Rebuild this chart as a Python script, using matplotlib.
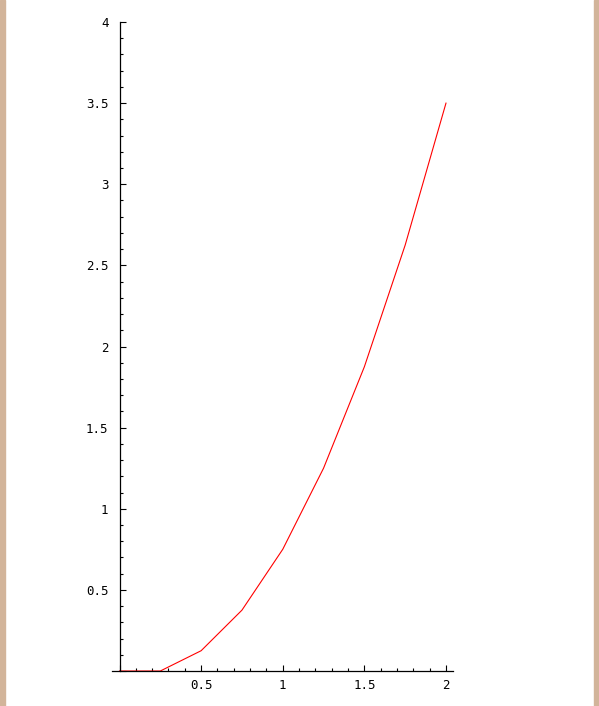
import matplotlib
matplotlib.use("Agg")
import matplotlib.pyplot as plt
from matplotlib.patches import Rectangle
from matplotlib.ticker import MultipleLocator, FuncFormatter

x_vals = [0, 0.25, 0.5, 0.75, 1.0, 1.25, 1.5, 1.75, 2.0]
y_vals = [0, 0, 0.125, 0.375, 0.75, 1.25, 1.875, 2.625, 3.5]

W, H = 599, 706
fig = plt.figure(figsize=(W / 100, H / 100), dpi=100, facecolor="white")

# tan strips at left and right edges
tan = "#d2b49a"
fig.patches.append(Rectangle((0, 0), 5 / W, 1, transform=fig.transFigure,
                             color=tan, zorder=-1))
fig.patches.append(Rectangle((594 / W, 0), 5 / W, 1, transform=fig.transFigure,
                             color=tan, zorder=-1))

ax = fig.add_axes([112 / W, (H - 671) / H, (453 - 112) / W, (671 - 22) / H])
ax.set_facecolor("none")
ax.plot(x_vals, y_vals, color="red", linewidth=0.8)

ax.set_xlim(-0.046, 2.043)
ax.set_ylim(0, 4)
for s in ("top", "right"):
    ax.spines[s].set_visible(False)
ax.spines["left"].set_position(("data", 0))
ax.spines["left"].set_linewidth(0.9)
ax.spines["bottom"].set_linewidth(0.9)

ax.xaxis.set_major_locator(MultipleLocator(0.5))
ax.xaxis.set_minor_locator(MultipleLocator(0.1))
ax.yaxis.set_major_locator(MultipleLocator(0.5))
ax.yaxis.set_minor_locator(MultipleLocator(0.1))


def fmt(v, pos):
    if abs(v) < 1e-9:
        return ""
    return ("%g" % v)


ax.xaxis.set_major_formatter(FuncFormatter(fmt))
ax.yaxis.set_major_formatter(FuncFormatter(fmt))

ax.tick_params(which="major", direction="in", length=4, width=0.8,
               labelsize=9)
ax.tick_params(axis="x", which="major", pad=6)
ax.tick_params(axis="y", which="major", pad=8)
ax.tick_params(which="minor", direction="in", length=2.5, width=0.8)
for lab in ax.get_xticklabels() + ax.get_yticklabels():
    lab.set_family("DejaVu Sans Mono")

fig.savefig("out.png", dpi=100, facecolor="white")
